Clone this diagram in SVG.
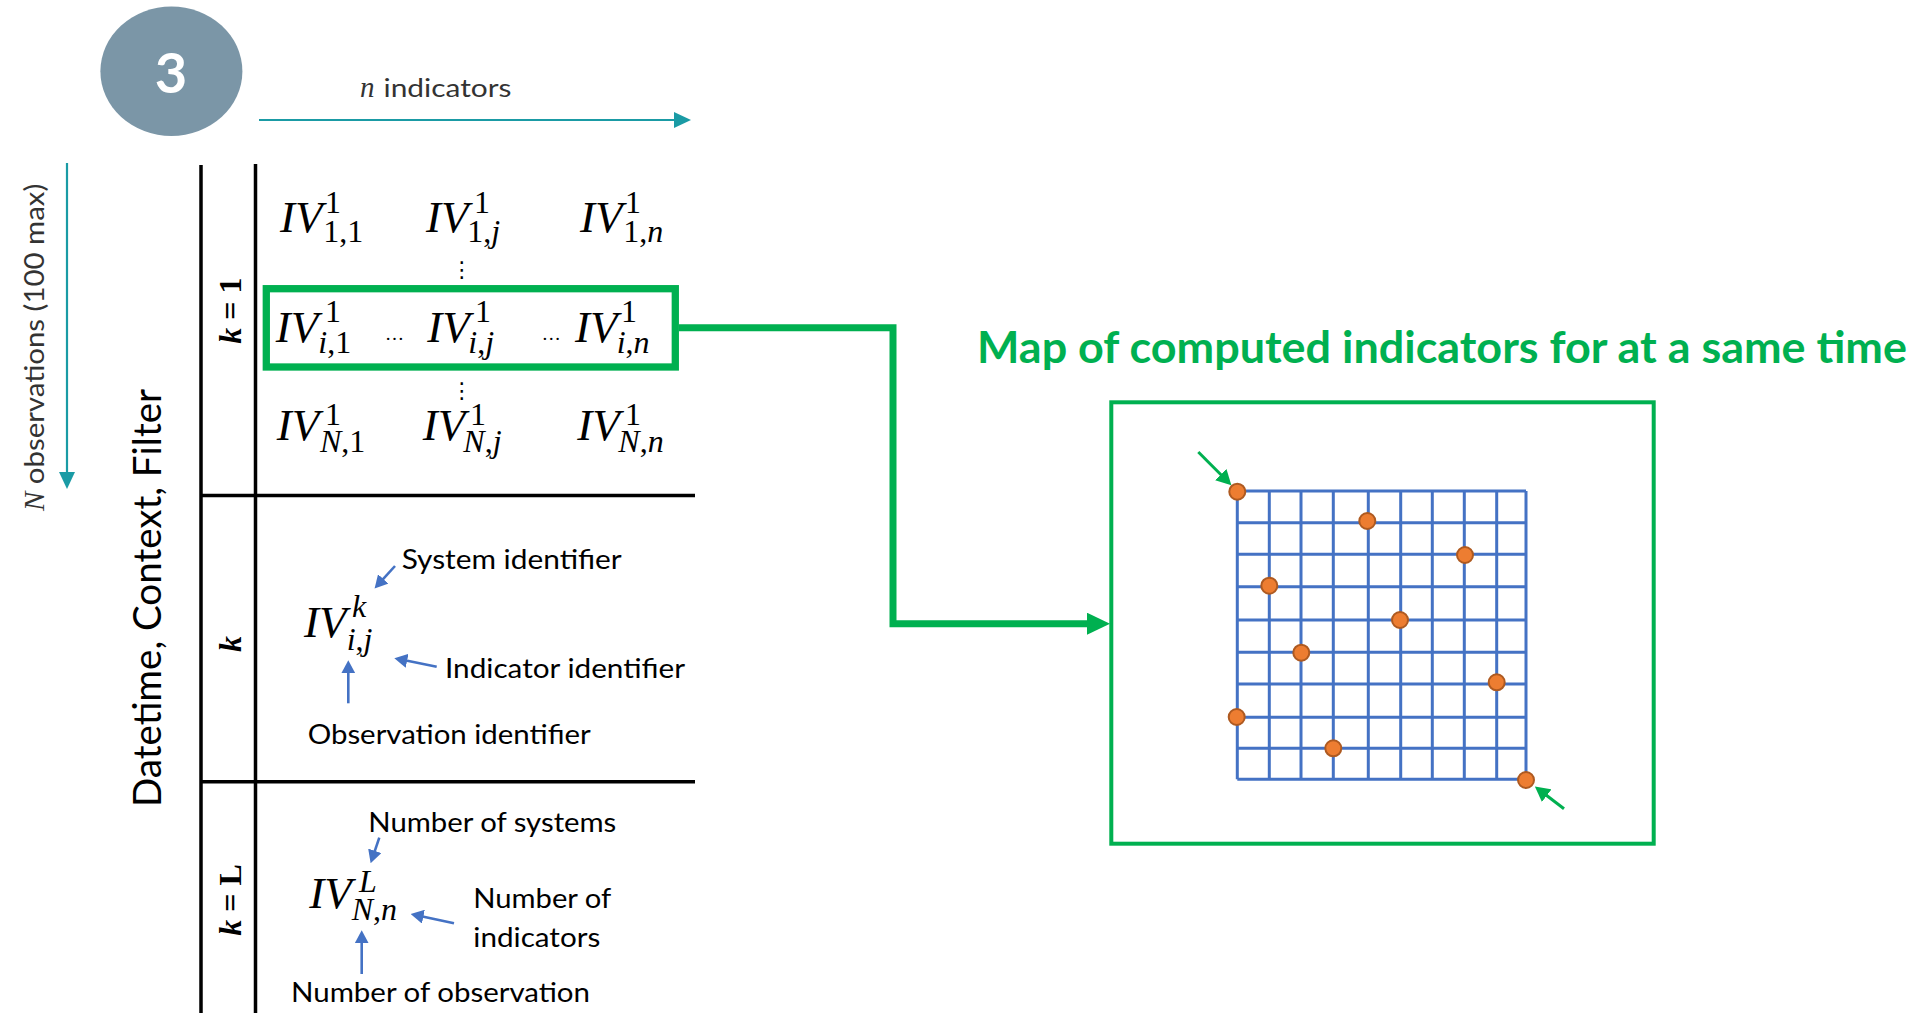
<svg xmlns="http://www.w3.org/2000/svg" width="1916" height="1013" viewBox="0 0 1916 1013">
<defs>
<style>
.m{font-family:"Liberation Serif","DejaVu Serif",serif;font-style:italic;fill:#000}
.iv{font-size:45px}
.sp{font-size:32px}
.sb{font-size:32px}
.up{font-style:normal}
.lab{font-family:Lato,"Open Sans",sans-serif;font-size:27px;fill:#000}
.tl{stroke:#000;stroke-width:3.5;fill:none}
.blue{stroke:#4472C4;stroke-width:2.6;fill:none}
.kk{font-family:"Liberation Serif","DejaVu Serif",serif;font-weight:bold;font-size:32px;fill:#000}
</style>
<marker id="mTeal" markerUnits="userSpaceOnUse" viewBox="0 0 17 16" refX="1" refY="8" markerWidth="17" markerHeight="16" orient="auto"><path d="M0,0 L17,8 L0,16 z" fill="#1A9BA5"/></marker>
<marker id="mGreen" markerUnits="userSpaceOnUse" viewBox="0 0 23 22" refX="1" refY="11" markerWidth="23" markerHeight="22" orient="auto"><path d="M0,0 L23,11 L0,22 z" fill="#00B050"/></marker>
<marker id="mBlue" markerUnits="userSpaceOnUse" viewBox="0 0 13 14" refX="1" refY="7" markerWidth="13" markerHeight="14" orient="auto"><path d="M0,0 L13,7 L0,14 z" fill="#4472C4"/></marker>
<marker id="mSg" markerUnits="userSpaceOnUse" viewBox="0 0 15 16" refX="1" refY="8" markerWidth="15" markerHeight="16" orient="auto"><path d="M0,0 L15,8 L0,16 z" fill="#00B050"/></marker>
</defs>
<rect width="1916" height="1013" fill="#fff"/>

<g id="badge">
<ellipse cx="171.4" cy="71.3" rx="71" ry="64.7" fill="#7B96A7"/>
<text x="171" y="93" text-anchor="middle" font-family="Lato,'Open Sans',sans-serif" font-weight="bold" font-size="56" fill="#fff">3</text>
</g>

<g id="axis-labels">
<text y="96.7" fill="#333"><tspan x="360" font-family="'Liberation Serif',serif" font-style="italic" font-size="29">n</tspan><tspan x="383.5" font-family="Lato,'Open Sans',sans-serif" font-size="25" textLength="128" lengthAdjust="spacingAndGlyphs">indicators</tspan></text>
<text transform="translate(44,511) rotate(-90)" fill="#333"><tspan x="0" y="0" font-family="'Liberation Serif',serif" font-style="italic" font-size="29">N</tspan><tspan font-family="Lato,'Open Sans',sans-serif" font-size="27" textLength="308" lengthAdjust="spacingAndGlyphs"> observations (100 max)</tspan></text>
<text transform="translate(161,807) rotate(-90)" x="0" y="0" font-family="Lato,'Open Sans',sans-serif" font-size="38" fill="#000" textLength="418" lengthAdjust="spacingAndGlyphs">Datetime, Context, Filter</text>
</g>

<g id="table">
<path class="tl" d="M201,165 V1013 M255.5,164 V1013 M201,495.5 H695 M201,781.7 H695"/>
<text class="kk" transform="translate(241,310.7) rotate(-90)" text-anchor="middle"><tspan font-style="italic">k</tspan> = 1</text>
<text class="kk" transform="translate(241,644) rotate(-90)" text-anchor="middle" font-style="italic">k</text>
<text class="kk" transform="translate(241,900) rotate(-90)" text-anchor="middle"><tspan font-style="italic">k</tspan> = L</text>
</g>

<g id="matrix-k1">
<text class="m"><tspan class="iv" x="280" y="231.7">IV</tspan><tspan class="sp up" x="325" y="213.3">1</tspan><tspan class="sb up" x="323.3" y="241.7">1,1</tspan></text>
<text class="m"><tspan class="iv" x="426" y="231.7">IV</tspan><tspan class="sp up" x="474" y="213.3">1</tspan><tspan class="sb" x="467.3" y="241.7"><tspan class="up">1,</tspan>j</tspan></text>
<text class="m"><tspan class="iv" x="580" y="231.7">IV</tspan><tspan class="sp up" x="625" y="213.3">1</tspan><tspan class="sb" x="623.3" y="241.7"><tspan class="up">1,</tspan>n</tspan></text>
<text x="461.7" y="277" text-anchor="middle" font-family="'DejaVu Sans',sans-serif" font-size="22" fill="#000">⋮</text>

<text class="m"><tspan class="iv" x="275.7" y="341.7">IV</tspan><tspan class="sp up" x="325" y="322.3">1</tspan><tspan class="sb" x="318.3" y="353.3">i<tspan class="up">,1</tspan></tspan></text>
<text x="385" y="340" font-family="'Liberation Serif',serif" font-size="19" fill="#000">…</text>
<text class="m"><tspan class="iv" x="427.3" y="341.7">IV</tspan><tspan class="sp up" x="475" y="322.3">1</tspan><tspan class="sb" x="468.3" y="353.3">i<tspan class="up">,</tspan>j</tspan></text>
<text x="541.7" y="340" font-family="'Liberation Serif',serif" font-size="19" fill="#000">…</text>
<text class="m"><tspan class="iv" x="575" y="341.7">IV</tspan><tspan class="sp up" x="621" y="322.3">1</tspan><tspan class="sb" x="616.7" y="353.3">i<tspan class="up">,</tspan>n</tspan></text>
<text x="461.7" y="398" text-anchor="middle" font-family="'DejaVu Sans',sans-serif" font-size="22" fill="#000">⋮</text>

<text class="m"><tspan class="iv" x="276.7" y="440">IV</tspan><tspan class="sp up" x="325" y="425">1</tspan><tspan class="sb" x="320" y="451.7">N<tspan class="up">,1</tspan></tspan></text>
<text class="m"><tspan class="iv" x="422.7" y="440">IV</tspan><tspan class="sp up" x="470" y="425">1</tspan><tspan class="sb" x="463.3" y="451.7">N<tspan class="up">,</tspan>j</tspan></text>
<text class="m"><tspan class="iv" x="577.3" y="440">IV</tspan><tspan class="sp up" x="625" y="425">1</tspan><tspan class="sb" x="618.3" y="451.7">N<tspan class="up">,</tspan>n</tspan></text>
</g>

<g id="row-highlight">
<rect x="266.3" y="288.7" width="409" height="78.3" fill="none" stroke="#00B050" stroke-width="7.3"/>
</g>

<g id="legend-k">
<text class="m"><tspan class="iv" x="304" y="636.7">IV</tspan><tspan class="sp" x="352" y="616.7">k</tspan><tspan class="sb" x="346.7" y="650">i<tspan class="up">,</tspan>j</tspan></text>
<text class="lab" x="401.7" y="569" textLength="220" lengthAdjust="spacingAndGlyphs">System identifier</text>
<text class="lab" x="445" y="678.3" textLength="240" lengthAdjust="spacingAndGlyphs">Indicator identifier</text>
<text class="lab" x="307.7" y="744" textLength="283" lengthAdjust="spacingAndGlyphs">Observation identifier</text>
</g>

<g id="legend-L">
<text class="m"><tspan class="iv" x="309.3" y="908.3">IV</tspan><tspan class="sp" x="359" y="891.7">L</tspan><tspan class="sb" x="351.7" y="920">N<tspan class="up">,</tspan>n</tspan></text>
<text class="lab" x="368.3" y="831.7" textLength="248" lengthAdjust="spacingAndGlyphs">Number of systems</text>
<text class="lab" x="473.3" y="908.3" textLength="138" lengthAdjust="spacingAndGlyphs">Number of</text>
<text class="lab" x="473.3" y="946.7" textLength="127" lengthAdjust="spacingAndGlyphs">indicators</text>
<text class="lab" x="291" y="1001.7" textLength="299" lengthAdjust="spacingAndGlyphs">Number of observation</text>
</g>

<g id="map-title">
<text x="977" y="363.3" font-family="Lato,'Open Sans',sans-serif" font-weight="bold" font-size="44" fill="#00B050" textLength="930" lengthAdjust="spacingAndGlyphs">Map of computed indicators for at a same time</text>
</g>

<g id="map">
<rect x="1111.3" y="402.3" width="542.4" height="441.4" fill="none" stroke="#00B050" stroke-width="4"/>
<path stroke="#4472C4" stroke-width="3" fill="none" d="M1237.3,491 V779.3 M1269.3,491 V779.3 M1301,491 V779.3 M1333.3,491 V779.3 M1368.3,491 V779.3 M1400.7,491 V779.3 M1432.3,491 V779.3 M1464.3,491 V779.3 M1496.7,491 V779.3 M1526,491 V779.3 M1237.3,491 H1526 M1237.3,522.7 H1526 M1237.3,554.3 H1526 M1237.3,586.7 H1526 M1237.3,620 H1526 M1237.3,652.3 H1526 M1237.3,684 H1526 M1237.3,717.3 H1526 M1237.3,748.3 H1526 M1237.3,779.3 H1526"/>
<g fill="#ED7D31" stroke="#AE5A21" stroke-width="2">
<circle cx="1237.3" cy="491.7" r="8"/>
<circle cx="1367.3" cy="521" r="8"/>
<circle cx="1465" cy="555" r="8"/>
<circle cx="1269.3" cy="585.7" r="8"/>
<circle cx="1400" cy="620" r="8"/>
<circle cx="1301.3" cy="652.7" r="8"/>
<circle cx="1496.7" cy="682.3" r="8"/>
<circle cx="1236.7" cy="717" r="8"/>
<circle cx="1333.3" cy="748.3" r="8"/>
<circle cx="1526" cy="780" r="8"/>
</g>
</g>

<g id="connectors">
<line x1="259" y1="120" x2="675" y2="120" stroke="#1A9BA5" stroke-width="2.2" marker-end="url(#mTeal)"/>
<line x1="67" y1="163" x2="67" y2="473" stroke="#1A9BA5" stroke-width="2.2" marker-end="url(#mTeal)"/>
<path d="M679,327.8 H893 V623.7 H1088" fill="none" stroke="#00B050" stroke-width="7" marker-end="url(#mGreen)"/>
<line class="blue" x1="395" y1="566" x2="382.6" y2="579.7" marker-end="url(#mBlue)"/>
<line class="blue" x1="436.7" y1="666.7" x2="406.1" y2="660.6" marker-end="url(#mBlue)"/>
<line class="blue" x1="348.3" y1="703.3" x2="348.3" y2="672.3" marker-end="url(#mBlue)"/>
<line class="blue" x1="379.3" y1="837.7" x2="374.5" y2="851.8" marker-end="url(#mBlue)"/>
<line class="blue" x1="454" y1="923.3" x2="422.4" y2="916.5" marker-end="url(#mBlue)"/>
<line class="blue" x1="361.7" y1="974" x2="361.7" y2="942.3" marker-end="url(#mBlue)"/>
<line x1="1198.3" y1="452" x2="1221.5" y2="475.3" stroke="#00B050" stroke-width="3" marker-end="url(#mSg)"/>
<line x1="1564" y1="808.7" x2="1546" y2="795" stroke="#00B050" stroke-width="3" marker-end="url(#mSg)"/>
</g>
</svg>
